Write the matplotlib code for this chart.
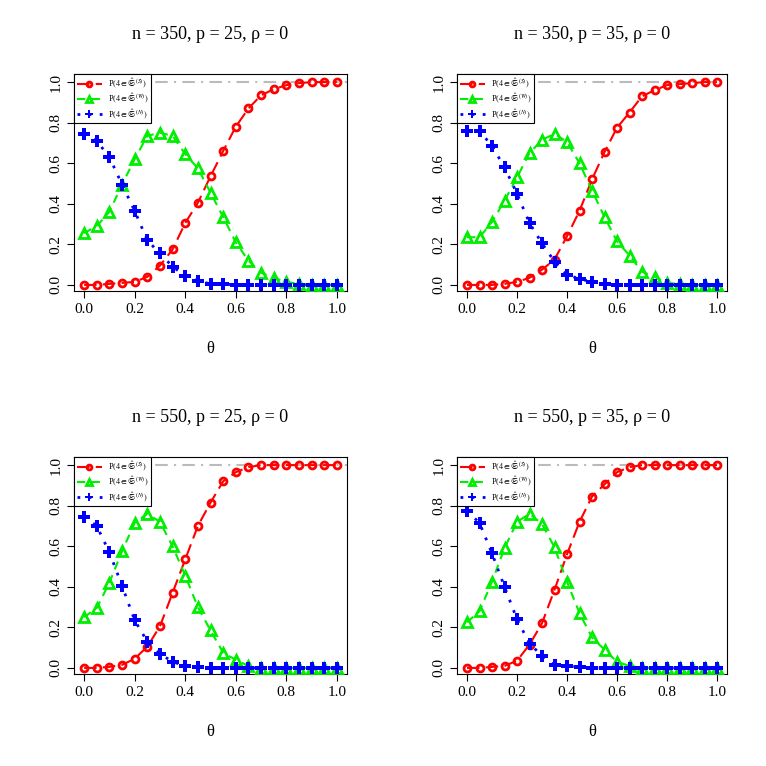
import numpy as np
import matplotlib.pyplot as plt

plt.rcParams['font.family'] = 'Liberation Serif'
plt.rcParams['mathtext.fontset'] = 'stix'

theta = np.round(np.arange(0, 1.0001, 0.05), 2)
titles = ['n = 350, p = 25, ρ = 0', 'n = 350, p = 35, ρ = 0',
          'n = 550, p = 25, ρ = 0', 'n = 550, p = 35, ρ = 0']

s1 = [0, 0, 0.005, 0.01, 0.015, 0.04, 0.095, 0.175, 0.305, 0.405, 0.535, 0.66, 0.78, 0.87, 0.935, 0.965, 0.985, 0.995, 1, 1, 1]
w1 = [0.255, 0.29, 0.36, 0.495, 0.62, 0.735, 0.75, 0.735, 0.645, 0.575, 0.455, 0.335, 0.21, 0.12, 0.06, 0.035, 0.015, 0.005, 0, 0, 0]
n1 = [0.745, 0.71, 0.63, 0.495, 0.365, 0.22, 0.155, 0.09, 0.045, 0.02, 0.005, 0.005, 0, 0, 0, 0, 0, 0, 0, 0, 0]
s2 = [0, 0, 0, 0.005, 0.015, 0.035, 0.075, 0.125, 0.24, 0.365, 0.52, 0.655, 0.775, 0.85, 0.93, 0.96, 0.985, 0.99, 0.995, 1, 1]
w2 = [0.235, 0.235, 0.31, 0.415, 0.53, 0.65, 0.715, 0.745, 0.705, 0.6, 0.465, 0.335, 0.215, 0.145, 0.065, 0.04, 0.01, 0.005, 0, 0, 0]
n2 = [0.76, 0.76, 0.685, 0.58, 0.45, 0.305, 0.205, 0.115, 0.05, 0.03, 0.015, 0.005, 0, 0, 0, 0, 0, 0, 0, 0, 0]
s3 = [0, 0, 0.005, 0.015, 0.045, 0.105, 0.205, 0.37, 0.535, 0.7, 0.815, 0.92, 0.965, 0.99, 1, 1, 1, 1, 1, 1, 1]
w3 = [0.25, 0.295, 0.42, 0.575, 0.715, 0.76, 0.72, 0.6, 0.455, 0.3, 0.185, 0.075, 0.04, 0.01, 0, 0, 0, 0, 0, 0, 0]
n3 = [0.745, 0.7, 0.57, 0.405, 0.235, 0.13, 0.07, 0.03, 0.01, 0.005, 0, 0, 0, 0, 0, 0, 0, 0, 0, 0, 0]
s4 = [0, 0, 0.005, 0.01, 0.035, 0.115, 0.22, 0.385, 0.56, 0.72, 0.845, 0.905, 0.965, 0.99, 1, 1, 1, 1, 1, 1, 1]
w4 = [0.225, 0.28, 0.425, 0.59, 0.72, 0.76, 0.71, 0.595, 0.425, 0.27, 0.15, 0.09, 0.03, 0.01, 0, 0, 0, 0, 0, 0, 0]
n4 = [0.775, 0.715, 0.565, 0.4, 0.24, 0.12, 0.06, 0.015, 0.01, 0.005, 0, 0, 0, 0, 0, 0, 0, 0, 0, 0, 0]
panels = [(s1, w1, n1), (s2, w2, n2), (s3, w3, n3), (s4, w4, n4)]

fig = plt.figure(figsize=(7.66, 7.66), dpi=100)
W = 766.0
boxes = [(74, 74, 347, 291), (457, 74, 727, 291), (74, 457, 347, 674), (457, 457, 727, 674)]

for (x0, y0, x1, y1), title, (s, w, n) in zip(boxes, titles, panels):
    ax = fig.add_axes([x0 / W, 1 - y1 / W, (x1 - x0) / W, (y1 - y0) / W])
    ax.axhline(1, color='#bbbbbb', ls=(0, (6, 3, 1, 3)), lw=1.5, zorder=1)
    ax.plot(theta, s, color='red', ls=(0, (6, 3)), lw=1.5, marker='o', ms=5,
            mfc='none', mew=2, label=r'P$(4 \in \hat{\mathfrak{S}}^{(S)})$', zorder=3)
    ax.plot(theta, w, color='#00ee00', ls=(0, (4, 3)), lw=1.5, marker='^', ms=7,
            mfc='none', mew=2, label=r'P$(4 \in \hat{\mathfrak{S}}^{(W)})$', zorder=3)
    ax.plot(theta, n, color='blue', ls=(0, (1, 3)), lw=2, marker='P', ms=8,
            mfc='blue', mec='blue', mew=0, label=r'P$(4 \in \hat{\mathfrak{S}}^{(N)})$', zorder=3)
    ax.set_xlim(-0.04, 1.04)
    ax.set_ylim(-0.03, 1.04)
    ax.set_xticks([0, 0.2, 0.4, 0.6, 0.8, 1.0])
    ax.set_yticks([0, 0.2, 0.4, 0.6, 0.8, 1.0])
    ax.set_xticklabels(['0.0', '0.2', '0.4', '0.6', '0.8', '1.0'])
    ax.set_yticklabels(['0.0', '0.2', '0.4', '0.6', '0.8', '1.0'], rotation=90, va='center')
    ax.tick_params(direction='out', length=5, labelsize=11)
    ax.set_xlabel('θ', fontsize=12, labelpad=18)
    ax.set_title(title, fontsize=13, pad=25)
    leg = ax.legend(loc='upper left', fontsize=6, frameon=True, fancybox=False,
                    edgecolor='black', framealpha=1, borderaxespad=0, handlelength=3,
                    borderpad=0.3, labelspacing=0.2, markerscale=0.7)
    leg.get_frame().set_linewidth(0.8)
    leg.set_zorder(5)

fig.savefig('out.png', dpi=100)
